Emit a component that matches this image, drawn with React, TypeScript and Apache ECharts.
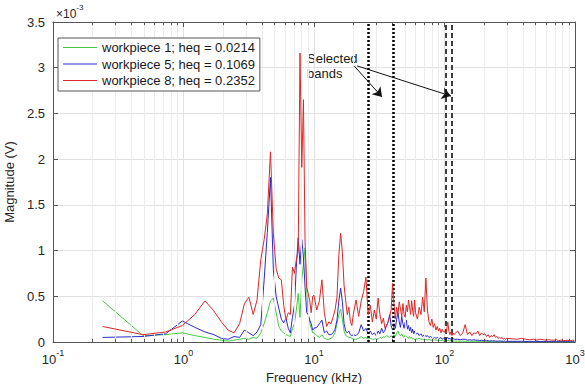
import React, { useEffect, useRef } from "react";
import * as echarts from "echarts";

// Frequencies in kHz
const freqKHz = [
  0.24, 0.49, 0.73, 0.98, 1.22, 1.46, 1.71, 1.95, 2.2, 2.44, 2.69, 2.93, 3.17, 3.42, 3.66, 3.91, 4.15, 4.39, 4.64, 4.88,
  5.13, 5.37, 5.62, 5.86, 6.1, 6.35, 6.59, 6.84, 7.08, 7.32, 7.57, 7.81, 8.06, 8.3, 8.54, 8.79, 9.03, 9.28, 9.52, 9.77, 10.0,
  10.5, 11, 11.5, 12, 12.5, 13, 13.5, 14, 14.5, 15, 15.5, 16, 16.5, 17, 17.5, 18, 18.5, 19, 19.5, 20,
  21, 22, 23, 24, 25, 26, 27, 28, 29, 30, 31, 32, 33, 34, 35, 36, 37, 38, 39, 40,
  41, 42, 43, 44, 45, 46, 47, 48, 49, 50, 51, 52, 53, 54, 55, 56, 57, 58, 59, 60,
  62, 64, 66, 68, 70, 72, 74, 76, 78, 80, 82, 84, 86, 88, 90, 92, 94, 96, 98, 100,
  102, 104, 106, 108, 110, 112, 114, 116, 118, 120,
  126, 132, 138, 144, 150, 156, 162, 168, 174, 180, 186, 192, 198, 204, 210, 216, 222, 228, 234, 240,
  246, 252, 258, 264, 270, 276, 282, 288, 294, 300,
  330, 360, 390, 420, 450, 480, 510, 540, 570, 600, 630, 660, 690, 720, 750, 780, 810, 840, 870, 900, 930, 960, 990,
];

// Magnitudes in units of 1e-3 V
const wp1 = [
  0.45, 0.07, 0.08, 0.10, 0.07, 0.05, 0.03, 0.02, 0.01, 0.02, 0.03, 0.04, 0.03, 0.05, 0.04, 0.10, 0.20, 0.32, 0.45, 0.48,
  0.32, 0.17, 0.12, 0.10, 0.08, 0.07, 0.06, 0.15, 0.20, 0.35, 0.53, 0.27, 0.68, 0.85, 1.03, 0.57, 0.30, 0.21, 0.15, 0.10, 0.10,
  0.07, 0.05, 0.08, 0.04, 0.03, 0.03, 0.04, 0.06, 0.10, 0.20, 0.30, 0.36, 0.25, 0.12, 0.07, 0.06, 0.05, 0.05, 0.04, 0.03,
  0.03, 0.04, 0.06, 0.04, 0.05, 0.03, 0.04, 0.03, 0.03, 0.04, 0.03, 0.05, 0.04, 0.06, 0.05, 0.07, 0.06, 0.05, 0.07, 0.05,
  0.08, 0.06, 0.10, 0.12, 0.08, 0.07, 0.09, 0.06, 0.05, 0.08, 0.06, 0.05, 0.04, 0.06, 0.04, 0.05, 0.03, 0.04, 0.03, 0.04,
  0.03, 0.04, 0.03, 0.03, 0.02, 0.03, 0.02, 0.03, 0.02, 0.02, 0.02, 0.025, 0.02, 0.02, 0.015, 0.02, 0.015, 0.02, 0.015, 0.015,
  0.015, 0.02, 0.015, 0.015, 0.01, 0.015, 0.01, 0.01, 0.01, 0.01,
  0.01, 0.008, 0.01, 0.008, 0.008, 0.01, 0.007, 0.008, 0.007, 0.007, 0.006, 0.007, 0.006, 0.006, 0.006, 0.005, 0.006, 0.005, 0.005, 0.005,
  0.005, 0.005, 0.004, 0.005, 0.004, 0.004, 0.004, 0.004, 0.004, 0.004,
  0.004, 0.004, 0.003, 0.004, 0.003, 0.003, 0.003, 0.003, 0.003, 0.003, 0.003, 0.002, 0.003, 0.002, 0.002, 0.002, 0.002, 0.002, 0.002, 0.002, 0.002, 0.002, 0.002,
];

const wp5 = [
  0.05, 0.06, 0.09, 0.23, 0.16, 0.11, 0.08, 0.04, 0.03, 0.06, 0.05, 0.13, 0.10, 0.07, 0.11, 0.19, 0.68, 1.20, 1.80, 0.79,
  0.50, 0.37, 0.25, 0.21, 0.26, 0.15, 0.10, 0.27, 0.40, 0.82, 1.14, 0.85, 1.12, 0.93, 0.60, 0.32, 0.30, 0.24, 0.20, 0.13, 0.15,
  0.16, 0.20, 0.24, 0.10, 0.12, 0.08, 0.08, 0.10, 0.14, 0.24, 0.45, 0.59, 0.44, 0.20, 0.12, 0.10, 0.12, 0.08, 0.07, 0.08,
  0.07, 0.10, 0.19, 0.12, 0.15, 0.09, 0.12, 0.08, 0.10, 0.07, 0.12, 0.09, 0.15, 0.10, 0.13, 0.18, 0.22, 0.30, 0.18, 0.13,
  0.20, 0.15, 0.25, 0.32, 0.22, 0.16, 0.28, 0.20, 0.15, 0.22, 0.24, 0.14, 0.18, 0.12, 0.16, 0.10, 0.14, 0.09, 0.12, 0.08,
  0.10, 0.07, 0.09, 0.06, 0.08, 0.06, 0.07, 0.05, 0.06, 0.05, 0.04, 0.05, 0.04, 0.05, 0.04, 0.04, 0.05, 0.03, 0.04, 0.04,
  0.03, 0.04, 0.05, 0.03, 0.04, 0.03, 0.03, 0.04, 0.03, 0.03,
  0.03, 0.025, 0.03, 0.03, 0.02, 0.025, 0.02, 0.025, 0.02, 0.02, 0.015, 0.02, 0.015, 0.02, 0.015, 0.015, 0.01, 0.015, 0.01, 0.015,
  0.01, 0.01, 0.01, 0.012, 0.01, 0.01, 0.008, 0.01, 0.008, 0.008,
  0.008, 0.007, 0.008, 0.006, 0.007, 0.006, 0.006, 0.005, 0.006, 0.005, 0.005, 0.005, 0.004, 0.005, 0.004, 0.004, 0.004, 0.004, 0.003, 0.004, 0.003, 0.003, 0.003,
];

const wp8 = [
  0.17, 0.08, 0.11, 0.18, 0.30, 0.45, 0.34, 0.22, 0.13, 0.10, 0.20, 0.42, 0.49, 0.30, 0.46, 0.90, 1.12, 1.40, 2.08, 1.19,
  0.80, 0.70, 0.68, 0.40, 0.24, 0.32, 0.30, 0.82, 0.75, 0.90, 1.00, 3.16, 1.91, 2.65, 1.10, 0.60, 0.53, 0.45, 0.32, 0.50, 0.51,
  0.35, 0.45, 0.68, 0.32, 0.17, 0.22, 0.20, 0.27, 0.35, 0.49, 0.95, 1.19, 0.98, 0.62, 0.45, 0.30, 0.38, 0.22, 0.18, 0.30,
  0.46, 0.28, 0.45, 0.55, 0.71, 0.30, 0.40, 0.22, 0.35, 0.25, 0.48, 0.30, 0.20, 0.26, 0.15, 0.18, 0.22, 0.28, 0.35, 0.64,
  0.42, 0.25, 0.38, 0.30, 0.44, 0.36, 0.28, 0.42, 0.30, 0.27, 0.40, 0.33, 0.46, 0.38, 0.30, 0.45, 0.35, 0.28, 0.46, 0.32,
  0.25, 0.38, 0.30, 0.49, 0.33, 0.70, 0.35, 0.22, 0.18, 0.25, 0.16, 0.20, 0.13, 0.17, 0.12, 0.15, 0.10, 0.14, 0.11, 0.12,
  0.09, 0.14, 0.22, 0.12, 0.08, 0.11, 0.07, 0.10, 0.08, 0.09,
  0.12, 0.07, 0.10, 0.19, 0.08, 0.11, 0.07, 0.10, 0.09, 0.12, 0.07, 0.10, 0.08, 0.09, 0.06, 0.08, 0.05, 0.07, 0.06, 0.08,
  0.05, 0.06, 0.04, 0.05, 0.04, 0.05, 0.03, 0.04, 0.03, 0.04,
  0.035, 0.03, 0.04, 0.03, 0.025, 0.03, 0.02, 0.03, 0.025, 0.02, 0.025, 0.02, 0.02, 0.025, 0.015, 0.02, 0.02, 0.015, 0.02, 0.015, 0.015, 0.02, 0.015,
];

const seriesNames = [
  "workpiece 1; heq = 0.0214",
  "workpiece 5; heq = 0.1069",
  "workpiece 8; heq = 0.2352",
];
const seriesColors = ["#46c846", "#2a2ad2", "#dc2828"];
const xDecadeExponents = [-1, 0, 1, 2, 3];
const yTickLabels = [0, 0.5, 1, 1.5, 2, 2.5, 3, 3.5];
const dottedBandsKHz = [25.9, 40.3];
const dashedBandsKHz = [102.7, 114];
const annotationText = "Selected\nbands";
const arrowStarts = [[20.3, 3.02], [21.4, 3.02]];
const arrowEnds = [[33.2, 2.68], [112, 2.69]];

const FONT = "'Liberation Sans', Arial, sans-serif";
const TXT = "#262626";
const AX = "#555555";

export default function App() {
  const ref = useRef<HTMLDivElement>(null);
  useEffect(() => {
    const chart = echarts.init(ref.current!, null, { renderer: "svg" });
    const xMin = Math.pow(10, xDecadeExponents[0]);
    const xMax = Math.pow(10, xDecadeExponents[xDecadeExponents.length - 1]);
    const yMin = yTickLabels[0];
    const yMax = yTickLabels[yTickLabels.length - 1];
    const yInt = yTickLabels[1] - yTickLabels[0];

    const minorVals: number[] = [];
    for (let i = 0; i < xDecadeExponents.length - 1; i++) {
      for (let m = 2; m <= 9; m++) minorVals.push(+(m * Math.pow(10, xDecadeExponents[i])).toPrecision(3));
    }
    const tickLen = 0.035;
    const minorTicks: any[] = [];
    minorVals.forEach((v) => {
      minorTicks.push([{ coord: [v, yMin] }, { coord: [v, yMin + tickLen] }]);
      minorTicks.push([{ coord: [v, yMax - tickLen] }, { coord: [v, yMax] }]);
    });

    const bandLines: any[] = [
      ...dottedBandsKHz.map((f) => ({ xAxis: f, lineStyle: { type: [2, 2], width: 2.5, color: "#000" } })),
      ...dashedBandsKHz.map((f) => ({ xAxis: f, lineStyle: { type: [5, 3], width: 1.5, color: "#000" } })),
    ];

    const arrows = arrowStarts.map((s, i) => [{ coord: s }, { coord: arrowEnds[i] }]);

    const dataSets = [wp1, wp5, wp8];

    const xLabelRich = {
      b: { fontSize: 13, color: TXT, fontFamily: FONT, padding: [5, 0, 0, 0], verticalAlign: "bottom" },
      s: { fontSize: 9, color: TXT, fontFamily: FONT, verticalAlign: "top" },
    };

    const option: any = {
      animation: false,
      backgroundColor: "#ffffff",
      textStyle: { fontFamily: FONT },
      grid: { left: 53, right: 10, top: 22, bottom: 42, containLabel: false, outerBoundsMode: "none" },
      legend: {
        data: seriesNames,
        orient: "vertical",
        left: 58,
        top: 38,
        z: 30,
        padding: [2, 5, 3, 5],
        icon: "rect",
        itemWidth: 34,
        itemHeight: 1,
        itemGap: 1.5,
        backgroundColor: "#ffffff",
        borderColor: "#555",
        borderWidth: 1,
        borderRadius: 0,
        textStyle: { fontSize: 13, color: "#1a1a1a", fontFamily: FONT, lineHeight: 15 },
      },
      xAxis: [
        {
          type: "log",
          logBase: 10,
          min: xMin,
          max: xMax,
          position: "bottom",
          name: "Frequency (kHz)",
          nameLocation: "middle",
          nameGap: 26,
          nameTextStyle: { fontSize: 13, color: TXT, fontFamily: FONT },
          axisLine: { show: true, onZero: false, lineStyle: { color: AX, width: 1 } },
          axisTick: { show: true, inside: true, length: 5, lineStyle: { color: AX } },
          axisLabel: {
            margin: 6,
            formatter: (v: number) => `{b|10}{s|${Math.round(Math.log10(v))}}`,
            rich: xLabelRich,
          },
          splitLine: { show: true, lineStyle: { color: "#e2e2e2", width: 1 } },
        },
        {
          type: "log",
          logBase: 10,
          min: xMin,
          max: xMax,
          position: "top",
          axisLine: { show: true, onZero: false, lineStyle: { color: AX, width: 1 } },
          axisTick: { show: true, inside: true, length: 5, lineStyle: { color: AX } },
          axisLabel: { show: false },
          splitLine: { show: false },
        },
      ],
      yAxis: [
        {
          type: "value",
          min: yMin,
          max: yMax,
          interval: yInt,
          position: "left",
          name: "Magnitude (V)",
          nameLocation: "middle",
          nameGap: 29,
          nameRotate: 90,
          nameTextStyle: { fontSize: 13, color: TXT, fontFamily: FONT },
          axisLine: { show: true, lineStyle: { color: AX, width: 1 } },
          axisTick: { show: true, inside: true, length: 5, lineStyle: { color: AX } },
          axisLabel: { fontSize: 13, color: TXT, margin: 8, formatter: (v: number) => String(v) },
          splitLine: { show: true, lineStyle: { color: "#e2e2e2", width: 1 } },
        },
        {
          type: "value",
          min: yMin,
          max: yMax,
          interval: yInt,
          position: "right",
          axisLine: { show: true, lineStyle: { color: AX, width: 1 } },
          axisTick: { show: true, inside: true, length: 5, lineStyle: { color: AX } },
          axisLabel: { show: false },
          splitLine: { show: false },
        },
      ],
      series: [
        {
          type: "line",
          name: "minorGrid",
          data: [],
          silent: true,
          z: 1,
          markLine: {
            silent: true,
            symbol: ["none", "none"],
            label: { show: false },
            lineStyle: { color: "#ececec", width: 1, type: "solid" },
            data: minorVals.map((v) => ({ xAxis: v })),
          },
        },
        {
          type: "line",
          name: "minorTicks",
          data: [],
          silent: true,
          z: 1,
          markLine: {
            silent: true,
            symbol: ["none", "none"],
            label: { show: false },
            lineStyle: { color: AX, width: 1, type: "solid" },
            data: minorTicks,
          },
        },
        ...seriesNames.map((n, k) => ({
          type: "line",
          name: n,
          data: freqKHz.map((f, i) => [f, dataSets[k][i]]),
          symbol: "none",
          showSymbol: false,
          silent: true,
          z: 3 + k,
          color: seriesColors[k],
          lineStyle: { color: seriesColors[k], width: 1 },
        })),
        {
          type: "line",
          name: "bands",
          data: [],
          silent: true,
          z: 8,
          markLine: {
            silent: true,
            symbol: ["none", "none"],
            label: { show: false },
            data: bandLines,
          },
        },
        {
          type: "line",
          name: "arrows",
          data: [],
          silent: true,
          z: 9,
          markLine: {
            silent: true,
            symbol: ["none", "arrow"],
            symbolSize: 9,
            label: { show: false },
            lineStyle: { color: "#111", width: 1, type: "solid" },
            itemStyle: { color: "#111" },
            data: arrows,
          },
        },
      ],
      graphic: [
        {
          type: "text",
          left: 56,
          top: 3,
          style: {
            text: "{a|×10}{b|-3}",
            rich: {
              a: { fontSize: 12, fill: TXT, fontFamily: FONT, padding: [5, 0, 0, 0], verticalAlign: "bottom" },
              b: { fontSize: 8, fill: TXT, fontFamily: FONT, verticalAlign: "top" },
            },
          },
        },
        {
          type: "text",
          left: 307,
          top: 51,
          style: { text: annotationText, fontSize: 13, lineHeight: 15, fill: "#1a1a1a", fontFamily: FONT },
        },
      ],
    };
    chart.setOption(option);
    return () => chart.dispose();
  }, []);
  return <div ref={ref} style={{ position: "fixed", left: 0, top: 0, width: 585, height: 384 }} />;
}
